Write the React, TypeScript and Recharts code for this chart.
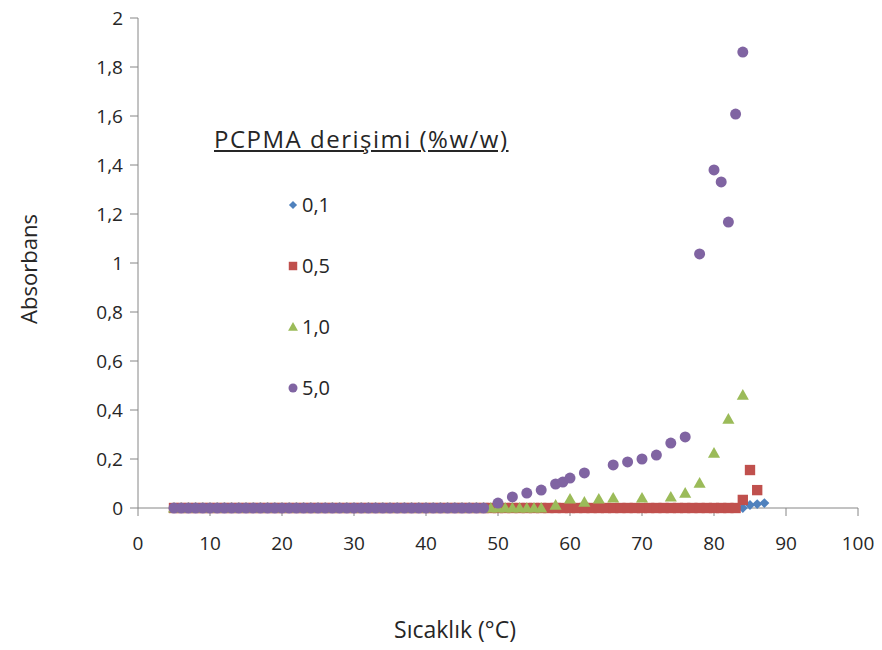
import { ScatterChart, Scatter, XAxis, YAxis, Legend, Label } from "recharts";

// measurement temperatures (°C)
const sicaklik = [
  5, 6, 7, 8, 9, 10, 11, 12, 13, 14,
  15, 16, 17, 18, 19, 20, 21, 22, 23, 24,
  25, 26, 27, 28, 29, 30, 31, 32, 33, 34,
  35, 36, 37, 38, 39, 40, 41, 42, 43, 44,
  45, 46, 47, 48, 49, 50, 51, 52, 53, 54,
  55, 56, 57, 58, 59, 60, 61, 62, 63, 64,
  65, 66, 67, 68, 69, 70, 71, 72, 73, 74,
  75, 76, 77, 78, 79, 80, 81, 82, 83, 84,
  85, 86, 87, 88,
];

// absorbance per concentration, aligned with sicaklik (null = no reading)
const abs01 = [
  0, 0, 0, 0, 0, 0, 0, 0, 0, 0,
  0, 0, 0, 0, 0, 0, 0, 0, 0, 0,
  0, 0, 0, 0, 0, 0, 0, 0, 0, 0,
  0, 0, 0, 0, 0, 0, 0, 0, 0, 0,
  0, 0, 0, 0, 0, 0, 0, 0, 0, 0,
  0, 0, 0, 0, 0, 0, 0, 0, 0, 0,
  0, 0, 0, 0, 0, 0, 0, 0, 0, 0,
  0, 0, 0, 0, 0, 0, 0, 0, 0, 0,
  0.012, 0.016, 0.02, null,
];

const abs05 = [
  0, 0, 0, 0, 0, 0, 0, 0, 0, 0,
  0, 0, 0, 0, 0, 0, 0, 0, 0, 0,
  0, 0, 0, 0, 0, 0, 0, 0, 0, 0,
  0, 0, 0, 0, 0, 0, 0, 0, 0, 0,
  0, 0, 0, 0, 0, 0, 0, 0, 0, 0,
  0, 0, 0, 0, 0, 0, 0, 0, 0, 0,
  0, 0, 0, 0, 0, 0, 0, 0, 0, 0,
  0, 0, 0, 0, 0, 0, 0, 0, 0, 0.033,
  0.155, 0.073, null, null,
];

const abs10 = [
  0, 0, 0, 0, 0, 0, 0, 0, 0, 0,
  0, 0, 0, 0, 0, 0, 0, 0, 0, 0,
  0, 0, 0, 0, 0, 0, 0, 0, 0, 0,
  0, 0, 0, 0, 0, 0, 0, 0, 0, 0,
  0, 0, 0, 0, 0, 0, 0, 0, 0, 0,
  0, 0, null, 0.012, null, 0.037, null, 0.024, null, 0.037,
  null, 0.041, null, null, null, 0.041, null, null, null, 0.045,
  null, 0.061, null, 0.102, null, 0.224, null, 0.363, null, 0.461,
  null, null, null, null,
];

const abs50 = [
  0, 0, 0, 0, 0, 0, 0, 0, 0, 0,
  0, 0, 0, 0, 0, 0, 0, 0, 0, 0,
  0, 0, 0, 0, 0, 0, 0, 0, 0, 0,
  0, 0, 0, 0, 0, 0, 0, 0, 0, 0,
  0, 0, 0, 0, null, 0.02, null, 0.045, null, 0.061,
  null, 0.073, null, 0.098, 0.106, 0.122, null, 0.143, null, null,
  null, 0.176, null, 0.188, null, 0.2, null, 0.216, null, 0.265,
  null, 0.29, null, 1.037, null, 1.38, 1.331, 1.167, 1.608, 1.861,
  null, null, null, null,
];

const xTicks = [0, 10, 20, 30, 40, 50, 60, 70, 80, 90, 100];
const yTicks = [0, 0.2, 0.4, 0.6, 0.8, 1, 1.2, 1.4, 1.6, 1.8, 2];

const FONT = "'Open Sans', sans-serif";
const AXIS = "#868686";
const TEXT = "#262626";

type Marker = "diamond" | "square" | "triangle" | "circle";

const series: { name: string; values: (number | null)[]; color: string; marker: Marker }[] = [
  { name: "0,1", values: abs01, color: "#4F81BD", marker: "diamond" },
  { name: "0,5", values: abs05, color: "#C0504D", marker: "square" },
  { name: "1,0", values: abs10, color: "#9BBB59", marker: "triangle" },
  { name: "5,0", values: abs50, color: "#8064A2", marker: "circle" },
];

const toPoints = (values: (number | null)[]) =>
  sicaklik
    .map((t, i) => ({ t, a: values[i] }))
    .filter((p) => p.a !== null && p.a !== undefined);

function drawMarker(marker: Marker, cx: number, cy: number, color: string, s: number) {
  switch (marker) {
    case "diamond":
      return (
        <polygon
          points={`${cx},${cy - s * 0.45} ${cx + s * 0.45},${cy} ${cx},${cy + s * 0.45} ${cx - s * 0.45},${cy}`}
          fill={color}
        />
      );
    case "square":
      return <rect x={cx - s * 0.47} y={cy - s * 0.47} width={s * 0.94} height={s * 0.94} fill={color} />;
    case "triangle":
      return (
        <polygon
          points={`${cx},${cy - s * 0.55} ${cx + s * 0.55},${cy + s * 0.42} ${cx - s * 0.55},${cy + s * 0.42}`}
          fill={color}
        />
      );
    default:
      return <circle cx={cx} cy={cy} r={s * 0.5} fill={color} />;
  }
}

const fmt = (v: number) => String(v).replace(".", ",");

function LegendBox() {
  return (
    <div style={{ fontFamily: FONT, color: TEXT }}>
      <div
        style={{
          fontSize: 24,
          letterSpacing: 1.5,
          textDecoration: "underline",
          lineHeight: "30px",
          whiteSpace: "nowrap",
        }}
      >
        PCPMA derişimi (%w/w)
      </div>
      <div style={{ marginTop: 20, marginLeft: 73 }}>
        {series.map((s) => (
          <div key={s.name} style={{ display: "flex", alignItems: "center", height: 61, fontSize: 20 }}>
            <svg width={12} height={12} style={{ marginRight: 3 }}>
              {drawMarker(s.marker, 6, 6, s.color, 9)}
            </svg>
            <span>{s.name}</span>
          </div>
        ))}
      </div>
    </div>
  );
}

export default function App() {
  return (
    <div style={{ position: "absolute", left: 0, top: 0, background: "#fff" }}>
      <ScatterChart width={882} height={650} margin={{ top: 18, right: 24, bottom: 0, left: 0 }}>
        <XAxis
          type="number"
          dataKey="t"
          domain={[0, 100]}
          ticks={xTicks}
          height={142}
          axisLine={{ stroke: AXIS }}
          tickLine={{ stroke: AXIS }}
          tickSize={8}
          tickMargin={21}
          tick={{ fill: TEXT, fontSize: 19, fontFamily: FONT }}
        >
          <Label
            content={() => (
              <text x={455} y={638} textAnchor="middle" fill={TEXT} fontSize={23} fontFamily={FONT}>
                Sıcaklık (°C)
              </text>
            )}
          />
        </XAxis>
        <YAxis
          type="number"
          dataKey="a"
          domain={[0, 2]}
          ticks={yTicks}
          width={138}
          tickFormatter={fmt}
          axisLine={{ stroke: AXIS }}
          tickLine={{ stroke: AXIS }}
          tickSize={8}
          tickMargin={7}
          tick={{ fill: TEXT, fontSize: 19, fontFamily: FONT }}
        >
          <Label
            content={() => (
              <text
                x={37}
                y={269}
                transform="rotate(-90 37 269)"
                textAnchor="middle"
                fill={TEXT}
                fontSize={22}
                fontFamily={FONT}
              >
                Absorbans
              </text>
            )}
          />
        </YAxis>
        <Legend
          layout="vertical"
          align="center"
          verticalAlign="middle"
          wrapperStyle={{ left: 214, top: 124, width: 340 }}
          content={() => <LegendBox />}
        />
        {series.map((s) => (
          <Scatter
            key={s.name}
            name={s.name}
            data={toPoints(s.values)}
            fill={s.color}
            isAnimationActive={false}
            shape={(p: any) => drawMarker(s.marker, p.cx, p.cy, s.color, 11)}
          />
        ))}
      </ScatterChart>
    </div>
  );
}
